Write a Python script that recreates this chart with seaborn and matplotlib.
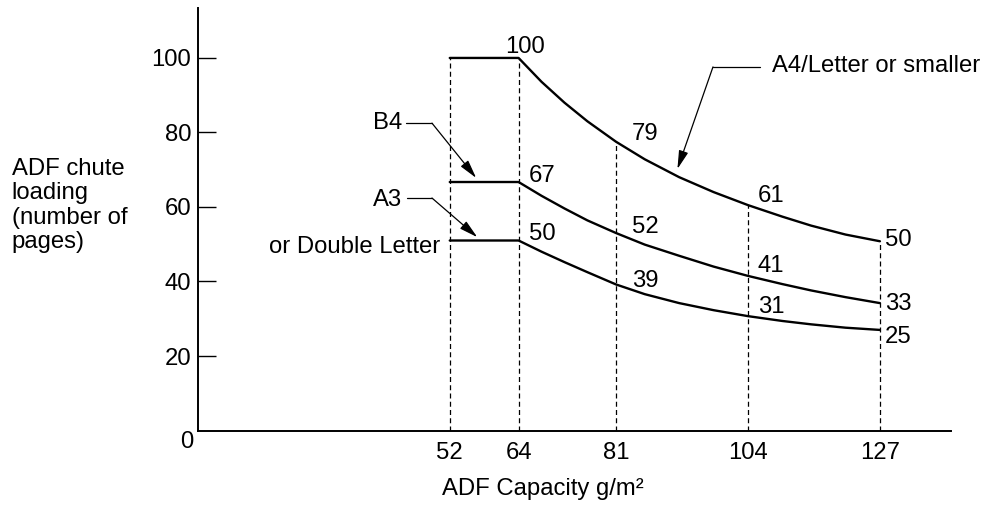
import pandas as pd
import matplotlib.pyplot as plt
import seaborn as sns

# paper weight (g/m2) and pages the chute holds
weights = [52, 64, 68, 72, 76, 81, 86, 92, 98, 104, 110, 115, 121, 127]
a4_pages = [100, 100, 93.6, 88.0, 83.0, 77.5, 72.8, 68.0, 64.0, 60.5, 57.4, 55.0, 52.6, 50.8]
b4_pages = [66.7, 66.7, 63.0, 59.6, 56.4, 53.0, 49.9, 46.9, 44.0, 41.5, 39.3, 37.6, 35.8, 34.2]
a3_pages = [51, 51, 48.0, 45.2, 42.5, 39.2, 36.6, 34.2, 32.3, 30.7, 29.4, 28.5, 27.6, 27.0]

x_ticks = [52, 64, 81, 104, 127]
y_ticks = [20, 40, 60, 80, 100]

# printed value labels
value_labels = ['100', '67', '50', '79', '52', '39', '61', '41', '31', '50', '33', '25']
label_x = [61.6, 65.8, 65.8, 83.8, 83.8, 83.8, 105.7, 105.7, 105.7, 127.9, 127.9, 127.9]
label_y = [101.3, 66.7, 51.1, 78.0, 53.0, 38.5, 61.3, 42.6, 31.5, 49.5, 32.3, 23.5]

df = pd.concat([
    pd.DataFrame({'weight': weights, 'pages': a4_pages, 'size': 'A4'}),
    pd.DataFrame({'weight': weights, 'pages': b4_pages, 'size': 'B4'}),
    pd.DataFrame({'weight': weights, 'pages': a3_pages, 'size': 'A3'}),
])

sns.set_style('ticks')
plt.rcParams['font.family'] = ['Liberation Sans', 'DejaVu Sans']
for k in ['text.color', 'axes.edgecolor', 'xtick.color', 'ytick.color', 'axes.labelcolor']:
    plt.rcParams[k] = 'black'
fs = 17.2

fig = plt.figure(figsize=(9.86, 5.11), dpi=100)
ax = fig.add_axes([0.2008, 0.1575, 0.7637, 0.8268])

sns.lineplot(data=df, x='weight', y='pages', hue='size', units='size', estimator=None,
             palette=['black', 'black', 'black'], linewidth=1.7, legend=False, ax=ax)

# dashed guides up to the A4 curve
tops = [a4_pages[weights.index(w)] for w in x_ticks]
ax.vlines(x_ticks, 0, tops, colors='black', linewidth=0.9, linestyles=(0, (4, 2.6)))

for t, x, y in zip(value_labels, label_x, label_y):
    ax.text(x, y, t, fontsize=fs, ha='left', va='baseline')

arrow = dict(arrowstyle='-|>,head_length=0.7,head_width=0.18', color='black', lw=0.9,
             mutation_scale=16, shrinkA=0, shrinkB=0)

# B4 leader
ax.text(43.7, 80.8, 'B4', fontsize=fs, ha='right', va='baseline')
ax.plot([44.4, 48.9], [82.5, 82.5], color='black', lw=0.9)
ax.annotate('', xy=(56.6, 67.8), xytext=(48.9, 82.5), arrowprops=arrow)

# A3 leader
ax.text(43.7, 60.3, 'A3', fontsize=fs, ha='right', va='baseline')
ax.text(50.3, 47.6, 'or Double Letter', fontsize=fs, ha='right', va='baseline')
ax.plot([44.6, 48.9], [62.4, 62.4], color='black', lw=0.9)
ax.annotate('', xy=(56.8, 51.9), xytext=(48.9, 62.4), arrowprops=arrow)

# A4 leader
ax.text(108.2, 96.3, 'A4/Letter or smaller', fontsize=fs, ha='left', va='baseline')
ax.plot([97.9, 106.1], [97.6, 97.6], color='black', lw=0.9)
ax.annotate('', xy=(91.7, 70.2), xytext=(97.9, 97.6), arrowprops=arrow)

ax.set_xlim(8.1, 139.4)
ax.set_ylim(0, 113.4)
ax.set_xticks(x_ticks)
ax.set_xticklabels([str(v) for v in x_ticks])
ax.set_yticks(y_ticks)
ax.set_yticklabels([str(v) for v in y_ticks])
ax.tick_params(axis='x', length=0, pad=8, labelsize=fs)
ax.tick_params(axis='y', direction='in', length=13, width=1, pad=5, labelsize=fs)
ax.text(6.2, -3.2, '0', fontsize=fs, ha='center', va='center', clip_on=False)

sns.despine(ax=ax)
for s in ['left', 'bottom']:
    ax.spines[s].set_linewidth(1.4)
ax.set_xlabel('')
ax.set_ylabel('')

fig.text(0.012, 0.598, 'ADF chute\nloading\n(number of\npages)', fontsize=fs,
         ha='left', va='center', linespacing=1.13)
fig.text(0.551, 0.044, 'ADF Capacity g/m²', fontsize=fs, ha='center', va='center')

fig.savefig('out.png', dpi=100)
